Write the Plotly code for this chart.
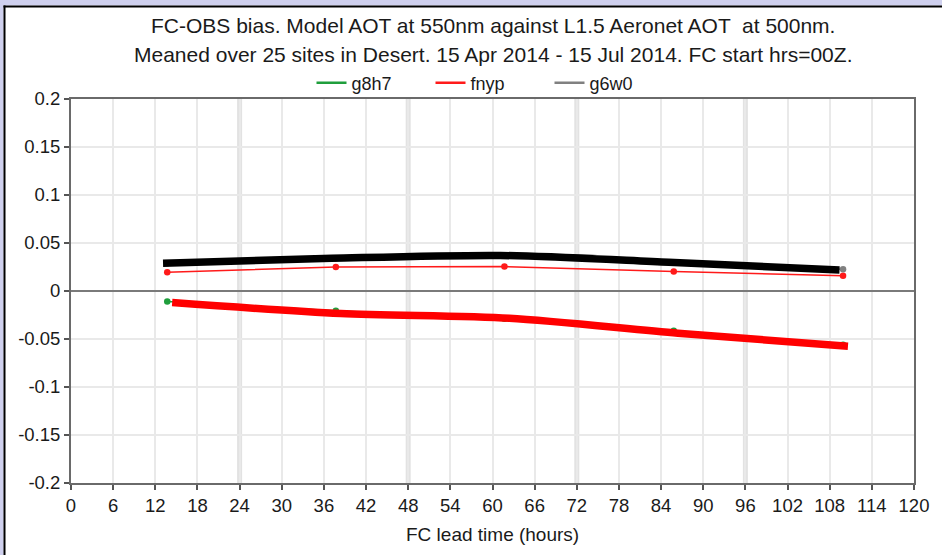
import plotly.graph_objects as go

# Forecast lead times (hours) and mean FC-OBS bias per experiment
lead_hours = [13.7, 37.7, 61.7, 85.8, 109.9]
g8h7_bias = [-0.011, -0.0205, -0.029, -0.0415, -0.056]
fnyp_bias = [0.0195, 0.025, 0.0255, 0.0202, 0.016]
g6w0_bias = [0.029, 0.034, 0.037, 0.030, 0.0227]

# Heavy overlay curves
black_hours = [13.1, 37.1, 61.1, 85.1, 109.4]
black_bias = [0.029, 0.034, 0.037, 0.030, 0.022]
red_hours = [14.4, 38.4, 62.4, 86.4, 110.6]
red_bias = [-0.012, -0.0235, -0.0285, -0.044, -0.0575]

series_names = ["g8h7", "fnyp", "g6w0"]
series_colors = ["#1f9e3c", "#ff1a1a", "#808080"]

x_ticks = list(range(0, 121, 6))
y_ticks = [0.2, 0.15, 0.1, 0.05, 0, -0.05, -0.1, -0.15, -0.2]
y_tick_text = ["0.2", "0.15", "0.1", "0.05", "0", "-0.05", "-0.1", "-0.15", "-0.2"]

title_lines = [
    "FC-OBS bias. Model AOT at 550nm against L1.5 Aeronet AOT  at 500nm.",
    "Meaned over 25 sites in Desert. 15 Apr 2014 - 15 Jul 2014. FC start hrs=00Z.",
]
x_title = "FC lead time (hours)"

FONT = "Liberation Sans, Arial, Helvetica, sans-serif"

fig = go.Figure()

for name, color, values in zip(series_names, series_colors, [g8h7_bias, fnyp_bias, g6w0_bias]):
    fig.add_trace(go.Scatter(
        x=lead_hours, y=values, name=name, mode="lines+markers", showlegend=False,
        line=dict(color=color, width=1.5), marker=dict(color=color, size=6.5),
    ))

fig.add_trace(go.Scatter(
    x=black_hours, y=black_bias, mode="lines", showlegend=False,
    line=dict(color="#000000", width=7.5, shape="spline", smoothing=0.8),
))
fig.add_trace(go.Scatter(
    x=red_hours, y=red_bias, mode="lines", showlegend=False,
    line=dict(color="#ff0000", width=7.5, shape="spline", smoothing=0.8),
))

# Legend keys drawn as plain line samples
for name, color in zip(series_names, series_colors):
    fig.add_trace(go.Scatter(
        x=[None], y=[None], name=name, mode="lines",
        line=dict(color=color, width=2.5),
    ))

# Heavier grid lines every 24 h
shapes = []
for h in range(24, 120, 24):
    shapes.append(dict(type="line", xref="x", yref="paper", x0=h, x1=h, y0=0, y1=1,
                       line=dict(color="#e2e2e2", width=5), layer="below"))

# Page frame: lavender band with a dark rule on the top and left edges
L, R, T, B = 71, 914, 99, 483
W, H = R - L, B - T


def px(x):
    return (x - L) / W


def py(y):
    return (B - y) / H


shapes += [
    dict(type="rect", xref="paper", yref="paper", x0=px(0), x1=px(942), y0=py(0), y1=py(5.5),
         fillcolor="#cfd0ee", line=dict(width=0), layer="below"),
    dict(type="rect", xref="paper", yref="paper", x0=px(0), x1=px(3.5), y0=py(0), y1=py(555),
         fillcolor="#cfd0ee", line=dict(width=0), layer="below"),
    dict(type="rect", xref="paper", yref="paper", x0=px(3.5), x1=px(942), y0=py(5.5), y1=py(7.5),
         fillcolor="#000000", line=dict(width=0), layer="below"),
    dict(type="rect", xref="paper", yref="paper", x0=px(3.5), x1=px(5.5), y0=py(5.5), y1=py(555),
         fillcolor="#000000", line=dict(width=0), layer="below"),
]

annotations = [
    dict(text=title_lines[0], xref="paper", yref="paper", x=0.5, y=py(25), yanchor="middle",
         showarrow=False, font=dict(family=FONT, size=21, color="#1a1a1a")),
    dict(text=title_lines[1], xref="paper", yref="paper", x=0.5, y=py(54), yanchor="middle",
         showarrow=False, font=dict(family=FONT, size=21, color="#1a1a1a")),
    dict(text=x_title, xref="paper", yref="paper", x=0.5, y=py(534), yanchor="middle",
         showarrow=False, font=dict(family=FONT, size=19, color="#1a1a1a")),
]

fig.update_layout(
    width=942, height=555,
    margin=dict(l=L, r=942 - R, t=T, b=555 - B),
    paper_bgcolor="#ffffff", plot_bgcolor="#ffffff",
    font=dict(family=FONT, size=19, color="#1a1a1a"),
    shapes=shapes, annotations=annotations,
    legend=dict(orientation="h", x=px(490), xanchor="center", y=py(83), yanchor="middle",
                font=dict(size=18), bgcolor="rgba(0,0,0,0)", itemwidth=30,
                entrywidth=74, entrywidthmode="pixels", tracegroupgap=0),
    showlegend=True,
)

fig.update_xaxes(
    range=[0, 120], tickvals=x_ticks, ticktext=[str(t) for t in x_ticks],
    showgrid=True, gridcolor="#e9e9e9", gridwidth=1.5,
    showline=True, linecolor="#6a6a6a", linewidth=2, mirror=True,
    ticks="outside", ticklen=5, tickcolor="#555555", tickwidth=1.5,
    zeroline=False, tickfont=dict(size=18.5),
)
fig.update_yaxes(
    range=[-0.2, 0.2], tickvals=y_ticks, ticktext=y_tick_text,
    showgrid=True, gridcolor="#e9e9e9", gridwidth=1.5,
    showline=True, linecolor="#6a6a6a", linewidth=2, mirror=True,
    ticks="outside", ticklen=5, tickcolor="#555555", tickwidth=1.5,
    zeroline=True, zerolinecolor="#7a7a7a", zerolinewidth=2, tickfont=dict(size=18.5),
)

fig.write_html("out.html")
